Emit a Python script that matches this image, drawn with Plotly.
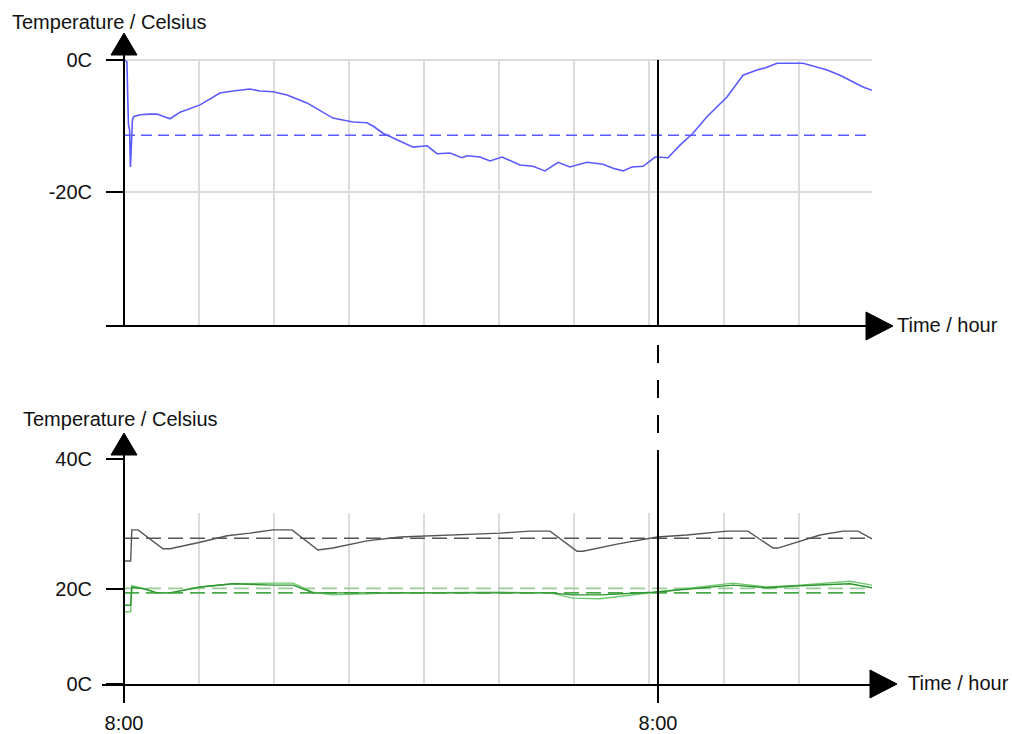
import plotly.graph_objects as go

# ---------------- data ----------------
# time in hours after the first 8:00 mark
outside_t = [0.04, 0.13, 0.20, 0.25, 0.29, 0.34, 0.38, 0.43, 0.72, 1.17, 1.48, 2.07, 2.52, 3.42,
             4.31, 4.90, 5.66, 6.11, 6.70, 7.33, 8.22, 9.39, 10.29, 10.92, 11.19, 11.64, 12.09,
             12.99, 13.62, 14.07, 14.65, 15.19, 15.42, 16.00, 16.45, 16.99, 17.80, 18.38, 18.92,
             19.51, 20.04, 20.81, 21.53, 21.98, 22.43, 22.83, 23.33, 23.87, 24.45, 24.99, 25.57,
             26.20, 27.10, 27.82, 28.45, 28.81, 29.35, 29.93, 30.52, 31.60, 32.18, 33.21, 33.62]
outside_temp = [0.0, -0.3, -9.8, -10.6, -16.2, -11.4, -9.1, -8.6, -8.3, -8.2, -8.2, -8.9, -7.9, -6.8,
                -5.0, -4.7, -4.4, -4.7, -4.8, -5.3, -6.5, -8.8, -9.4, -9.5, -10.0, -11.1, -11.8,
                -13.2, -13.0, -14.2, -14.1, -14.8, -14.5, -14.7, -15.3, -14.7, -15.9, -16.1, -16.8,
                -15.5, -16.2, -15.5, -15.8, -16.4, -16.8, -16.2, -16.1, -14.7, -14.8, -12.9, -11.1,
                -8.6, -5.6, -2.3, -1.5, -1.2, -0.5, -0.5, -0.5, -1.5, -2.3, -4.1, -4.6]
outside_mean = -11.4

gray_t = [0, 0.30, 0.35, 0.63, 1.75, 2.07, 3.42, 4.63, 5.66, 6.70, 7.55, 8.72, 9.39, 10.92, 12.40,
          16.90, 18.25, 19.15, 20.36, 20.63, 22.16, 23.96, 25.30, 27.10, 28.04, 29.17, 29.39, 30.38,
          31.28, 32.31, 32.99, 33.62]
gray_temp = [24.3, 24.3, 29.1, 29.1, 26.2, 26.2, 27.2, 28.2, 28.6, 29.1, 29.1, 26.0, 26.3, 27.4, 28.0,
             28.6, 28.9, 28.9, 25.8, 25.8, 26.9, 28.0, 28.3, 28.9, 28.9, 26.3, 26.3, 27.4,
             28.3, 28.9, 28.9, 27.7]
gray_mean = 27.8

green_t = [0, 0.30, 0.35, 0.63, 0.94, 1.48, 2.07, 3.42, 4.90, 6.70, 7.60, 8.49, 9.39, 12.40, 16.90,
           19.15, 20.18, 21.39, 23.78, 25.89, 27.37, 28.90, 30.38, 32.63, 33.62]
green_dark_temp = [17.5, 17.5, 20.3, 20.2, 20.0, 19.4, 19.4, 20.3, 20.8, 20.6, 20.6, 19.4, 19.4, 19.5, 19.5,
                   19.4, 19.1, 19.1, 19.5, 20.2, 20.6, 20.2, 20.5, 20.8, 20.2]
green_light_temp = [16.5, 16.5, 20.5, 20.3, 20.0, 19.4, 19.4, 20.3, 20.8, 20.9, 20.9, 19.5, 19.1, 19.4, 19.5,
                    19.4, 18.6, 18.5, 19.4, 20.3, 20.9, 20.3, 20.6, 21.2, 20.6]
green_light_mean = 20.1
green_dark_mean = 19.4

cursor_t = 24.0
top_ticks = [0, -20]
top_ticktext = ["0C", "-20C"]
bottom_floor = 5.385          # value sitting on the lower time axis
bottom_ticks = [bottom_floor, 20, 40]
bottom_ticktext = ["0C", "20C", "40C"]
time_ticks = [0, 24]
time_ticktext = ["8:00", "8:00"]
grid_step = 3.371             # spacing of the light vertical grid (hours)

# ---------------- layout helpers ----------------
W, H = 1012, 734
PXH = 22.25                   # pixels per hour
X0 = 124                      # pixel of t = 0


def px(x):
    return x / W


def py(y):
    return 1 - y / H


FONT = "Liberation Sans, Arial, sans-serif"
AX = "#000000"
GRID = "#dcdcdc"

top_range = [-(325 - 60) / 6.6, (60 - 55) / 6.6]
bot_range = [bottom_floor, 20 + (589 - 455) / 6.5]
bot_grid_top = 20 + (589 - 513) / 6.5
t_end = (872 - X0) / PXH

fig = go.Figure()

fig.add_trace(go.Scatter(x=outside_t, y=outside_temp, mode="lines", xaxis="x", yaxis="y",
                         line=dict(color="#5a5aff", width=1.6), showlegend=False))
fig.add_trace(go.Scatter(x=[0, t_end], y=[outside_mean, outside_mean], mode="lines", xaxis="x", yaxis="y",
                         line=dict(color="#5a5aff", width=1.5, dash="11px,6px"), showlegend=False))

fig.add_trace(go.Scatter(x=[0, t_end], y=[gray_mean, gray_mean], mode="lines", xaxis="x2", yaxis="y2",
                         line=dict(color="#555555", width=1.5, dash="15px,7px"), showlegend=False))
fig.add_trace(go.Scatter(x=[0, t_end], y=[green_light_mean, green_light_mean], mode="lines", xaxis="x2", yaxis="y2",
                         line=dict(color="#99cc99", width=1.8, dash="15px,7px"), showlegend=False))
fig.add_trace(go.Scatter(x=[0, t_end], y=[green_dark_mean, green_dark_mean], mode="lines", xaxis="x2", yaxis="y2",
                         line=dict(color="#4aa84a", width=1.8, dash="15px,7px"), showlegend=False))
fig.add_trace(go.Scatter(x=gray_t, y=gray_temp, mode="lines", xaxis="x2", yaxis="y2",
                         line=dict(color="#555555", width=1.4), showlegend=False))
fig.add_trace(go.Scatter(x=green_t, y=green_light_temp, mode="lines", xaxis="x2", yaxis="y2",
                         line=dict(color="#70c870", width=1.4), showlegend=False))
fig.add_trace(go.Scatter(x=green_t, y=green_dark_temp, mode="lines", xaxis="x2", yaxis="y2",
                         line=dict(color="#2e962e", width=1.4), showlegend=False))

shapes = []
# vertical light grid
k = 1
while k * grid_step < t_end:
    g = k * grid_step
    shapes.append(dict(type="line", xref="x", yref="y", x0=g, x1=g, y0=top_range[0], y1=0,
                       line=dict(color=GRID, width=2), layer="below"))
    shapes.append(dict(type="line", xref="x2", yref="y2", x0=g, x1=g, y0=bot_range[0], y1=bot_grid_top,
                       line=dict(color=GRID, width=2), layer="below"))
    k += 1

# cursor line
shapes.append(dict(type="line", xref="x", yref="y", x0=cursor_t, x1=cursor_t, y0=top_range[0], y1=0,
                   line=dict(color=AX, width=2)))
shapes.append(dict(type="line", xref="x", yref="paper", x0=cursor_t, x1=cursor_t, y0=py(345), y1=py(451),
                   line=dict(color=AX, width=2, dash="18px,17px")))
shapes.append(dict(type="line", xref="x2", yref="paper", x0=cursor_t, x1=cursor_t, y0=py(451), y1=py(684),
                   line=dict(color=AX, width=2)))


def tri(p1, p2, p3):
    return dict(type="path", xref="paper", yref="paper",
                path="M {} {} L {} {} L {} {} Z".format(px(p1[0]), py(p1[1]), px(p2[0]), py(p2[1]),
                                                       px(p3[0]), py(p3[1])),
                fillcolor=AX, line=dict(color=AX, width=1))


shapes.append(tri((124, 33), (111, 55), (137, 55)))
shapes.append(tri((893, 326), (866, 312), (866, 340)))
shapes.append(tri((124, 433), (111, 455), (137, 455)))
shapes.append(tri((897, 684), (870, 670), (870, 698)))

annotations = [
    dict(text="Temperature / Celsius", x=px(10), y=py(22), xref="paper", yref="paper",
         xanchor="left", yanchor="middle", showarrow=False, font=dict(family=FONT, size=20, color="#111")),
    dict(text="Temperature / Celsius", x=px(21), y=py(419), xref="paper", yref="paper",
         xanchor="left", yanchor="middle", showarrow=False, font=dict(family=FONT, size=20, color="#111")),
    dict(text="Time / hour", x=px(895), y=py(325), xref="paper", yref="paper",
         xanchor="left", yanchor="middle", showarrow=False, font=dict(family=FONT, size=20, color="#111")),
    dict(text="Time / hour", x=px(906), y=py(683), xref="paper", yref="paper",
         xanchor="left", yanchor="middle", showarrow=False, font=dict(family=FONT, size=20, color="#111")),
]

tickfont = dict(family=FONT, size=20, color="#111")

fig.update_layout(
    width=W, height=H, margin=dict(l=0, r=0, t=0, b=0, autoexpand=False),
    paper_bgcolor="white", plot_bgcolor="rgba(0,0,0,0)",
    showlegend=False, shapes=shapes, annotations=annotations,
    xaxis=dict(domain=[px(106), px(872)], range=[(106 - X0) / PXH, t_end], anchor="y",
               showgrid=False, zeroline=False, showline=True, linecolor=AX, linewidth=2,
               showticklabels=False, ticks="", automargin=False),
    yaxis=dict(domain=[py(325), py(55)], range=top_range, anchor="free", position=px(X0),
               tickvals=top_ticks, ticktext=top_ticktext, tickfont=tickfont,
               showgrid=True, gridcolor=GRID, gridwidth=2, zeroline=False,
               showline=True, linecolor=AX, linewidth=2, automargin=False,
               ticks="outside", ticklen=17, tickwidth=2, tickcolor=AX, ticklabelstandoff=10),
    yaxis3=dict(overlaying="y", anchor="free", position=px(X0), range=top_range,
                tickvals=top_ticks, showticklabels=False, showgrid=False, zeroline=False,
                showline=False, ticks="inside", ticklen=18, tickwidth=2, tickcolor=AX,
                automargin=False),
    xaxis2=dict(domain=[px(102), px(872)], range=[(102 - X0) / PXH, t_end], anchor="y2",
                tickvals=time_ticks, ticktext=time_ticktext, tickfont=tickfont,
                showgrid=False, zeroline=False, showline=True, linecolor=AX, linewidth=2,
                ticks="outside", ticklen=17, tickwidth=2, tickcolor=AX, automargin=False,
                ticklabelstandoff=3),
    yaxis2=dict(domain=[py(684), py(455)], range=bot_range, anchor="free", position=px(X0),
                tickvals=bottom_ticks, ticktext=bottom_ticktext, tickfont=tickfont,
                showgrid=False, zeroline=False, showline=True, linecolor=AX, linewidth=2,
                automargin=False,
                ticks="outside", ticklen=17, tickwidth=2, tickcolor=AX, ticklabelstandoff=10),
    yaxis4=dict(overlaying="y2", anchor="free", position=px(X0), range=bot_range,
                tickvals=bottom_ticks, showticklabels=False, showgrid=False, zeroline=False,
                showline=False, ticks="inside", ticklen=18, tickwidth=2, tickcolor=AX,
                automargin=False),
)

fig.write_html("out.html", config={"displayModeBar": False},
               post_script="document.body.style.margin='0px';")
